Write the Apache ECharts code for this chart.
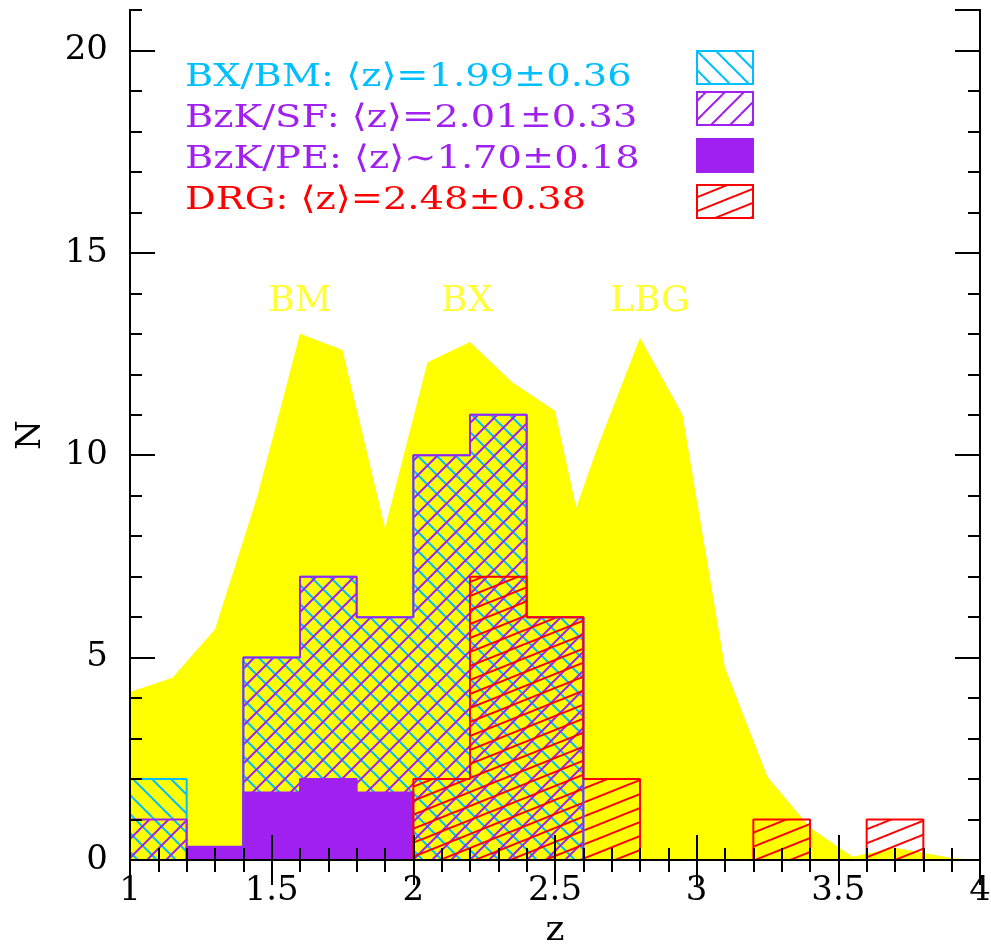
<!DOCTYPE html>
<html><head><meta charset="utf-8">
<script src="https://cdn.jsdelivr.net/npm/echarts@6/dist/echarts.min.js"></script>
<style>html,body{margin:0;padding:0;background:#fff}#c{width:991px;height:949px}</style>
</head><body><div id="c"></div>
<script>
// ---------- data ----------
const yellowZ = [1.0, 1.15, 1.3, 1.45, 1.6, 1.75, 1.9, 2.05, 2.2, 2.35, 2.5, 2.575, 2.65, 2.8, 2.95, 3.1, 3.25, 3.4, 3.55, 3.7, 3.9, 4.0];
const yellowN = [4.15, 4.5, 5.7, 9.0, 13.0, 12.6, 8.2, 12.3, 12.8, 11.8, 11.1, 8.7, 10.2, 12.9, 11.0, 4.75, 2.05, 0.8, 0.08, 0.3, 0.05, 0.0];

const bxEdges = [1.0, 1.2, 1.4, 1.6, 1.8, 2.0, 2.2, 2.4, 2.6];
const bxCounts = [2, 0, 5, 7, 6, 10, 11, 6];
const sfEdges = [1.0, 1.2, 1.4, 1.6, 1.8, 2.0, 2.2, 2.4, 2.6];
const sfCounts = [1, 0, 5, 7, 6, 10, 11, 6];
const peEdges = [1.2, 1.4, 1.6, 1.8, 2.0];
const peCounts = [0.33, 1.67, 2.0, 1.67];
const drgEdges = [2.0, 2.2, 2.4, 2.6, 2.8, 3.0, 3.2, 3.4, 3.6, 3.8];
const drgCounts = [2, 7, 6, 2, 0, 0, 1, 0, 1];

const legendLabels = ['BX/BM: \u27E8z\u27E9=1.99\u00B10.36', 'BzK/SF: \u27E8z\u27E9=2.01\u00B10.33', 'BzK/PE: \u27E8z\u27E9\u223C1.70\u00B10.18', 'DRG: \u27E8z\u27E9=2.48\u00B10.38'];
const sampleNames = ['BM', 'BX', 'LBG'];
const sampleZ = [1.6, 2.19, 2.835];
const sampleN = [13.8, 13.8, 13.8];

// ---------- styles ----------
const CYAN = '#00BFFF', PURPLE = '#A020F0', RED = '#FF0000', YELLOW = '#FFFF00';
const FONT = 'DejaVu Serif';

function hatch(color, w, h, x1, y1, x2, y2) {
  const c = document.createElement('canvas');
  c.width = w; c.height = h;
  const ctx = c.getContext('2d');
  ctx.strokeStyle = color; ctx.lineWidth = 2;
  for (const dx of [-w, 0, w]) for (const dy of [-h, 0, h]) {
    ctx.beginPath(); ctx.moveTo(x1 + dx, y1 + dy); ctx.lineTo(x2 + dx, y2 + dy); ctx.stroke();
  }
  return { image: c, repeat: 'repeat' };
}
const patBX = hatch(CYAN, 19, 19, 0, 0, 19, 19);
const patSF = hatch(PURPLE, 19, 19, 0, 19, 19, 0);
const patDRG = hatch(RED, 35, 14, 0, 14, 35, 0);

function stepPts(edges, counts) {
  const p = [[edges[0], 0]];
  for (let i = 0; i < counts.length; i++) { p.push([edges[i], counts[i]], [edges[i + 1], counts[i]]); }
  p.push([edges[edges.length - 1], 0]);
  return p;
}
function histSeries(name, edges, counts, color, fill) {
  return {
    name, type: 'line', xAxisIndex: 0, yAxisIndex: 0, data: stepPts(edges, counts),
    symbol: 'none', lineStyle: { color, width: 2 }, areaStyle: { color: fill, opacity: 1 },
    silent: true, animation: false
  };
}

const chart = echarts.init(document.getElementById('c'), null, { renderer: 'canvas' });

const axisLine = { show: true, lineStyle: { color: '#000', width: 2 } };
const tickLbl = { fontFamily: FONT, fontSize: 34, color: '#000' };
function yAx(pos, interval, len, labels) {
  return {
    type: 'value', position: pos, min: 0, max: 21, interval, z: 10,
    axisLine, splitLine: { show: false },
    axisTick: { show: true, inside: true, length: len, lineStyle: { color: '#000', width: 2 } },
    axisLabel: labels ? Object.assign({ show: true, margin: 22, showMaxLabel: false }, tickLbl) : { show: false },
    name: labels ? 'N' : '', nameLocation: 'middle', nameGap: 82,
    nameTextStyle: { fontFamily: FONT, fontSize: 34, color: '#000' }
  };
}
function xAx(pos, labels) {
  return {
    type: 'value', position: pos, min: 1, max: 4, interval: 0.5, z: 10,
    axisLine, splitLine: { show: false },
    axisTick: { show: true, inside: true, length: 25, lineStyle: { color: '#000', width: 2 } },
    minorTick: { show: true, splitNumber: 5, length: 12, lineStyle: { color: '#000', width: 2 } },
    minorSplitLine: { show: false },
    axisLabel: labels ? Object.assign({ show: true, margin: 14 }, tickLbl) : { show: false },
    name: labels ? 'z' : '', nameLocation: 'middle', nameGap: 53,
    nameTextStyle: { fontFamily: FONT, fontSize: 36, color: '#000' }
  };
}

const legendY = [78, 119, 160, 201];
const swatchTop = [51, 92, 139, 185];
const legendColors = [CYAN, PURPLE, PURPLE, RED];
const legendFills = [patBX, patSF, PURPLE, patDRG];
const graphics = [];
legendLabels.forEach((t, i) => {
  graphics.push({
    type: 'text', x: 185, y: legendY[i], scaleX: 1.2, z: 20,
    style: { text: t, fill: legendColors[i], fontFamily: FONT, fontSize: 32, verticalAlign: 'middle', align: 'left' }
  });
  graphics.push({
    type: 'rect', z: 20, shape: { x: 697, y: swatchTop[i], width: 56, height: 33 },
    style: { fill: legendFills[i], stroke: legendColors[i], lineWidth: 2 }
  });
});

chart.setOption({
  animation: false,
  backgroundColor: '#fff',
  grid: { left: 130, right: 11, top: 10, bottom: 89, containLabel: false, outerBoundsMode: 'none' },
  xAxis: [xAx('bottom', true), xAx('top', false)],
  yAxis: [yAx('left', 5, 25, true), yAx('left', 1, 12, false), yAx('right', 5, 25, false), yAx('right', 1, 12, false)],
  graphic: graphics,
  series: [
    {
      name: 'all', type: 'line', xAxisIndex: 0, yAxisIndex: 0,
      data: yellowZ.map((z, i) => [z, yellowN[i]]), symbol: 'none',
      lineStyle: { width: 0, color: YELLOW }, areaStyle: { color: YELLOW, opacity: 1 }, silent: true, z: 1
    },
    histSeries('BX/BM', bxEdges, bxCounts, CYAN, patBX),
    histSeries('BzK/SF', sfEdges, sfCounts, PURPLE, patSF),
    histSeries('BzK/PE', peEdges, peCounts, PURPLE, PURPLE),
    histSeries('DRG', drgEdges, drgCounts, RED, patDRG),
    {
      name: 'samples', type: 'scatter', xAxisIndex: 0, yAxisIndex: 0,
      data: sampleZ.map((z, i) => [z, sampleN[i]]), symbolSize: 1,
      itemStyle: { color: 'rgba(0,0,0,0)' }, silent: true, z: 5,
      label: { show: true, position: 'inside', formatter: p => sampleNames[p.dataIndex],
        color: YELLOW, fontFamily: FONT, fontSize: 36 }
    }
  ]
});
</script></body></html>
